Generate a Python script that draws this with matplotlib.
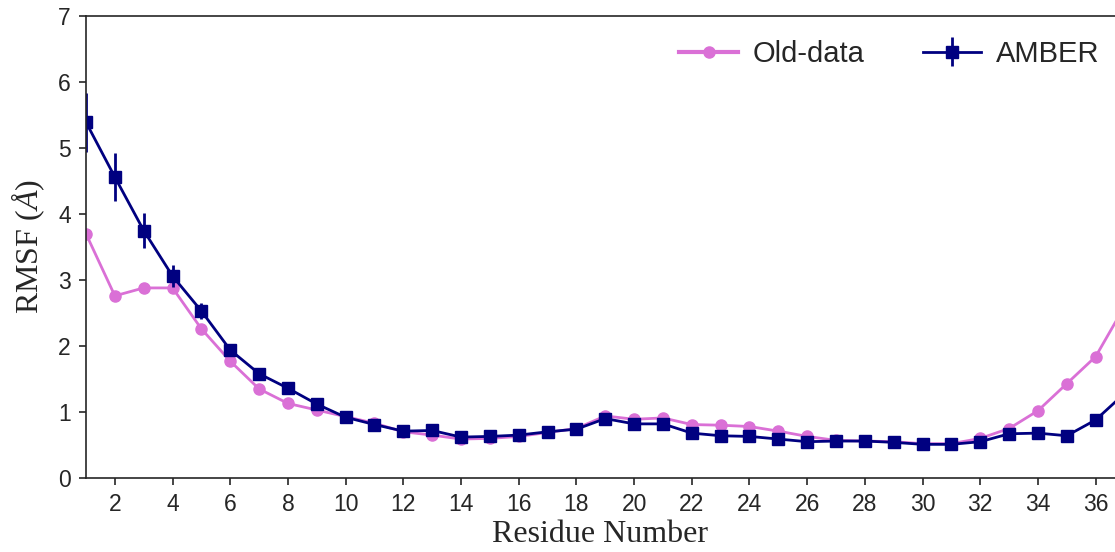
import numpy as np
import matplotlib
matplotlib.use("Agg")
from matplotlib import pyplot as plt

residues = list(range(1, 38))
old_data = [3.70, 2.76, 2.88, 2.88, 2.26, 1.77, 1.35, 1.13, 1.03, 0.93,
            0.83, 0.70, 0.65, 0.59, 0.60, 0.63, 0.69, 0.75, 0.94, 0.89,
            0.91, 0.81, 0.80, 0.78, 0.71, 0.63, 0.57, 0.56, 0.55, 0.52,
            0.52, 0.60, 0.75, 1.02, 1.43, 1.84, 2.60]
amber = [5.39, 4.56, 3.75, 3.06, 2.53, 1.94, 1.58, 1.36, 1.12, 0.92,
         0.81, 0.71, 0.72, 0.62, 0.63, 0.65, 0.70, 0.74, 0.90, 0.82,
         0.82, 0.68, 0.64, 0.63, 0.59, 0.55, 0.56, 0.56, 0.54, 0.51,
         0.51, 0.55, 0.67, 0.68, 0.64, 0.88, 1.28]
amber_err = [0.45, 0.37, 0.27, 0.17, 0.12, 0.06, 0.06, 0.04, 0.03, 0.03,
             0.02, 0.02, 0.02, 0.02, 0.02, 0.02, 0.02, 0.02, 0.03, 0.02,
             0.02, 0.02, 0.02, 0.02, 0.02, 0.02, 0.02, 0.02, 0.02, 0.02,
             0.02, 0.02, 0.02, 0.02, 0.02, 0.03, 0.04]

plt.rcParams["font.family"] = ["Liberation Sans", "DejaVu Sans"]
plt.rcParams["mathtext.fontset"] = "custom"
plt.rcParams["mathtext.rm"] = "Liberation Serif"
plt.rcParams["mathtext.it"] = "Liberation Serif:italic"

fig = plt.figure(figsize=(11.15, 5.52), dpi=100)
ax = fig.add_axes([86 / 1115, 1 - 478 / 552, 1 - 86 / 1115, (478 - 16) / 552])

ax.plot(residues, old_data, "-o", color="orchid", lw=2, ms=8, label="Old-data")
ax.errorbar(residues, amber, yerr=amber_err, fmt="-s", color="navy", lw=2,
            ms=8, elinewidth=2, capsize=0, label="AMBER")

ax.set_xlim(1, 36.67)
ax.set_ylim(0, 7)
ax.set_xticks(range(2, 37, 2))
ax.set_yticks(range(0, 8))
ax.tick_params(direction="out", length=5, width=1.2, colors="#262626",
               labelsize=16.5, pad=6)
for side in ["left", "bottom", "top"]:
    ax.spines[side].set_color("#262626")
    ax.spines[side].set_linewidth(1.2)
ax.spines["right"].set_visible(False)

ax.set_xlabel("Residue Number", family="Liberation Serif", fontsize=23,
              color="#262626", labelpad=3)
ax.set_ylabel(r"RMSF ($\mathit{Å}$)", family="Liberation Serif", fontsize=23,
              color="#262626", labelpad=8)

leg = ax.legend(loc="upper right", ncol=2, frameon=False, fontsize=21,
                bbox_to_anchor=(1.01, 1.005), columnspacing=2.0,
                handletextpad=0.5)
for t in leg.get_texts():
    t.set_color("#262626")
leg.get_lines()[0].set_linewidth(3)

plt.savefig("out.png", dpi=100)
